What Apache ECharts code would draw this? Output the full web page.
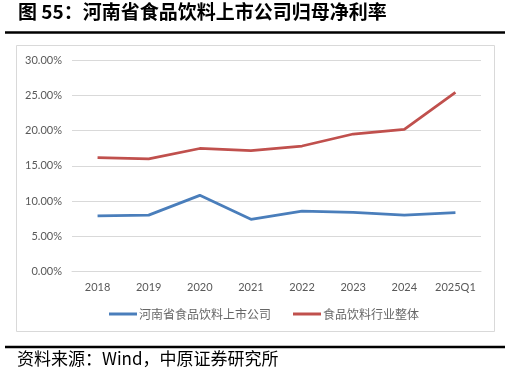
<!DOCTYPE html>
<html>
<head>
<meta charset="utf-8">
<script src="https://cdn.jsdelivr.net/npm/echarts@6/dist/echarts.min.js"></script>
<style>
html,body{margin:0;padding:0;background:#fff;}
#c{width:510px;height:379px;}
</style>
</head>
<body>
<div id="c"></div>
<script>
const categories = ['2018','2019','2020','2021','2022','2023','2024','2025Q1'];
const henanListed = [7.9, 8.0, 10.8, 7.4, 8.55, 8.4, 8.0, 8.35];
const industryTotal = [16.15, 15.98, 17.45, 17.15, 17.8, 19.5, 20.15, 25.4];
const seriesNames = ['河南省食品饮料上市公司', '食品饮料行业整体'];
const titleText = '图 55：河南省食品饮料上市公司归母净利率';
const sourceText = '资料来源：Wind，中原证券研究所';

const chart = echarts.init(document.getElementById('c'));
const axisFont = 'Lato, "Noto Sans", sans-serif';
chart.setOption({
  animation: false,
  backgroundColor: '#fff',
  graphic: [
    {type:'text', left:18, top:2, style:{text:titleText, font:'bold 19px "Noto Sans CJK SC", sans-serif', fill:'#000'}},
    {type:'line', shape:{x1:5,y1:32.5,x2:505,y2:32.5}, style:{stroke:'#000', lineWidth:2.5}},
    {type:'rect', shape:{x:16.5,y:45.5,width:478,height:286}, style:{fill:'none', stroke:'#d9d9d9', lineWidth:1}},
    {type:'line', shape:{x1:5,y1:347,x2:505,y2:347}, style:{stroke:'#000', lineWidth:2.5}},
    {type:'text', left:17, top:350, style:{text:sourceText, font:'17px "Noto Sans CJK SC", sans-serif', fill:'#000'}}
  ],
  grid: {left:72, right:29, top:60, bottom:107.5, containLabel:false},
  legend: {
    left: 104, top: 303,
    itemWidth: 28, itemHeight: 3, itemGap: 22,
    icon: 'rect',
    textStyle: {color:'#666666', fontSize:12, fontFamily:'"Noto Sans CJK SC", sans-serif', padding:[0,0,0,-3]},
    data: seriesNames
  },
  xAxis: {
    type:'category', data:categories, boundaryGap:true,
    axisLine:{show:true, lineStyle:{color:'#d9d9d9', width:1}},
    axisTick:{show:false},
    axisLabel:{color:'#595959', fontSize:11, fontFamily:axisFont, margin:10, interval:0}
  },
  yAxis: {
    type:'value', min:0, max:30, interval:5,
    axisLine:{show:false}, axisTick:{show:false},
    splitLine:{lineStyle:{color:'#d9d9d9', width:1}},
    axisLabel:{color:'#595959', fontSize:11, fontFamily:axisFont, margin:10,
      formatter: v => v.toFixed(2) + '%'}
  },
  series: [
    {name:seriesNames[0], type:'line', data:henanListed, symbol:'none',
      lineStyle:{color:'#4a7ebb', width:2.75}, itemStyle:{color:'#4a7ebb'}},
    {name:seriesNames[1], type:'line', data:industryTotal, symbol:'none',
      lineStyle:{color:'#c0504d', width:2.75}, itemStyle:{color:'#c0504d'}}
  ]
});
</script>
</body>
</html>
